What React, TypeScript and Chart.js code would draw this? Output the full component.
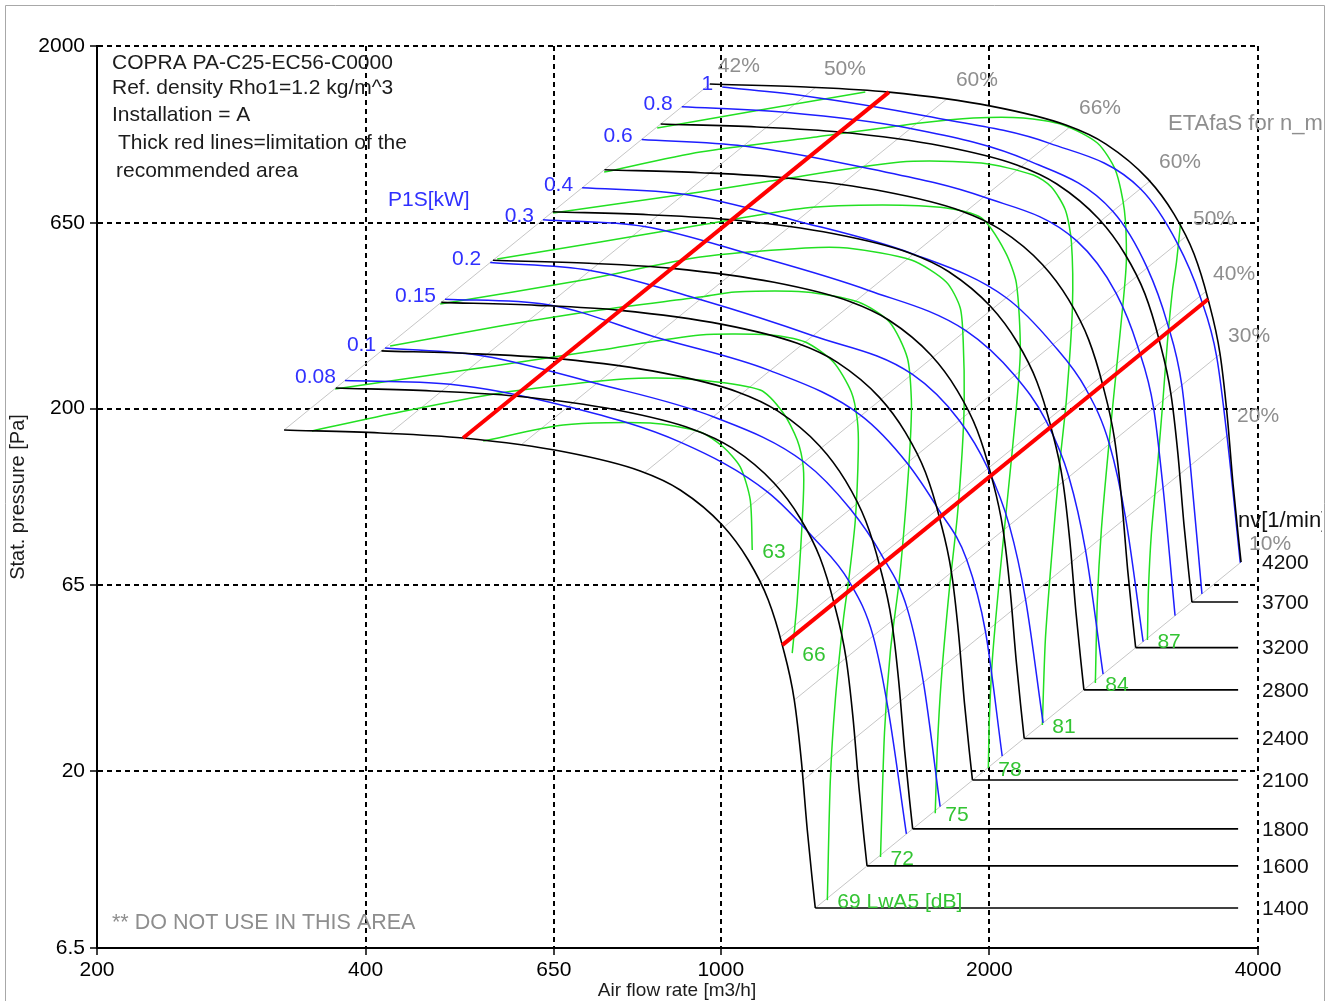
import React, { useEffect, useRef } from "react";
import { Chart, registerables } from "chart.js";

Chart.register(...registerables);

// ---------- axes ----------
const X_TICKS = [200, 400, 650, 1000, 2000, 4000];
const Y_TICKS = [6.5, 20, 65, 200, 650, 2000];

// ---------- speed lines nv [1/min] (Q m3/h, p Pa) ----------
const N1400_Q = [324.1, 415.3, 514.4, 669.4, 812.3, 900.7, 1003.9, 1073.6, 1130.5, 1172.1, 1209.0, 1231.1, 1250.2, 1266.5, 1276.3];
const N1400_P = [174.5, 171.2, 165.8, 151.7, 134.5, 119.2, 95.4, 76.4, 59.3, 44.5, 31.4, 21.4, 13.75, 10.0, 8.38];
const N1600_Q = [370.4, 474.6, 587.9, 765.0, 928.3, 1029.4, 1147.3, 1227.0, 1292.0, 1339.5, 1381.7, 1407.0, 1428.8, 1447.4, 1458.6];
const N1600_P = [227.9, 223.6, 216.6, 198.1, 175.7, 155.7, 124.6, 99.8, 77.5, 58.1, 41.0, 27.95, 17.96, 13.06, 10.95];
const N1800_Q = [416.7, 534.0, 661.4, 860.7, 1044.4, 1158.0, 1290.7, 1380.3, 1453.5, 1507.0, 1554.4, 1582.8, 1607.4, 1628.4, 1641.0];
const N1800_P = [288.5, 283.0, 274.1, 250.8, 222.3, 197.0, 157.7, 126.3, 98.0, 73.6, 51.9, 35.4, 22.7, 16.5, 13.85];
const N2100_Q = [486.2, 623.0, 771.6, 1004.1, 1218.5, 1351.1, 1505.9, 1610.4, 1695.8, 1758.2, 1813.5, 1846.7, 1875.3, 1899.8, 1914.5];
const N2100_P = [392.6, 385.2, 373.1, 341.3, 302.6, 268.2, 214.7, 171.9, 133.4, 100.1, 70.7, 48.2, 30.9, 22.5, 18.9];
const N2400_Q = [555.6, 711.9, 881.8, 1147.5, 1392.5, 1544.1, 1721.0, 1840.5, 1938.0, 2009.3, 2072.6, 2110.5, 2143.2, 2171.1, 2188.0];
const N2400_P = [512.8, 503.1, 487.2, 445.8, 395.3, 350.3, 280.4, 224.5, 174.3, 130.8, 92.3, 62.9, 40.4, 29.4, 24.6];
const N2800_Q = [648.2, 830.6, 1028.8, 1338.8, 1624.6, 1801.4, 2007.8, 2147.2, 2261.0, 2344.2, 2418.0, 2462.2, 2500.4, 2533.0, 2552.6];
const N2800_P = [698.0, 684.8, 663.2, 606.8, 538.0, 476.8, 381.6, 305.6, 237.2, 178.0, 125.6, 85.6, 55.0, 40.0, 33.5];
const N3200_Q = [740.8, 949.3, 1175.8, 1530.1, 1856.7, 2058.7, 2294.6, 2453.9, 2584.0, 2679.1, 2763.4, 2813.9, 2857.6, 2894.9, 2917.3];
const N3200_P = [911.7, 894.4, 866.2, 792.5, 702.7, 622.8, 498.4, 399.2, 309.8, 232.5, 164.0, 111.8, 71.8, 52.2, 43.8];
const N3700_Q = [856.5, 1097.6, 1359.5, 1769.1, 2146.8, 2380.4, 2653.2, 2837.4, 2987.8, 3097.7, 3195.2, 3253.6, 3304.1, 3347.2, 3373.1];
const N3700_P = [1218.8, 1195.8, 1158.1, 1059.6, 939.4, 832.6, 666.3, 533.6, 414.2, 310.8, 219.3, 149.5, 96.0, 69.8, 58.5];
const N4200_Q = [972.3, 1245.9, 1543.2, 2008.2, 2436.9, 2702.1, 3011.7, 3220.8, 3391.5, 3516.3, 3627.0, 3693.3, 3750.6, 3799.5, 3828.9];
const N4200_P = [1570.5, 1540.8, 1492.2, 1365.3, 1210.5, 1072.8, 858.6, 687.6, 533.7, 400.5, 282.6, 192.6, 123.75, 90.0, 75.4];
const SPEED_LABELS = ["1400", "1600", "1800", "2100", "2400", "2800", "3200", "3700", "4200"];
const TAIL_Q = 3800;

// ---------- power lines P1S [kW] ----------
const P008_Q = [379.2, 497.5, 674.4, 903.4, 1128.0, 1272.6, 1392.7, 1481.6, 1541.4, 1614.5];
const P008_P = [238.9, 233.4, 202.3, 161.0, 117.8, 87.6, 66.7, 47.2, 29.3, 13.41];
const P010_Q = [420.6, 543.9, 725.9, 980.9, 1239.8, 1397.2, 1514.2, 1617.8, 1687.1, 1761.3];
const P010_P = [293.8, 278.9, 234.4, 189.8, 142.4, 105.6, 78.9, 56.2, 35.1, 15.96];
const P015_Q = [490.9, 640.5, 842.2, 1135.6, 1436.6, 1617.3, 1752.3, 1886.6, 1980.3, 2067.4];
const P015_P = [400.4, 386.8, 315.5, 254.4, 191.2, 141.5, 105.7, 76.5, 48.4, 21.99];
const P020_Q = [551.6, 714.1, 948.2, 1268.7, 1638.8, 1850.9, 1992.5, 2105.6, 2195.7, 2297.3];
const P020_P = [505.4, 480.8, 399.9, 317.6, 248.7, 185.3, 136.6, 95.2, 59.5, 27.15];
const P030_Q = [632.1, 821.0, 1090.1, 1465.0, 1882.1, 2135.2, 2316.1, 2455.6, 2563.5, 2682.1];
const P030_P = [663.7, 635.6, 528.6, 423.4, 328.1, 246.7, 184.6, 129.5, 81.1, 37.0];
const P040_Q = [699.3, 909.4, 1216.6, 1644.1, 2089.1, 2357.1, 2565.5, 2725.9, 2842.6, 2974.0];
const P040_P = [812.4, 779.7, 658.4, 533.3, 404.2, 300.6, 226.5, 159.6, 99.7, 45.5];
const P060_Q = [815.6, 1060.5, 1442.5, 1970.8, 2504.2, 2773.3, 2933.2, 3055.7, 3131.0, 3229.4];
const P060_P = [1105.0, 1060.5, 925.6, 766.3, 580.8, 416.1, 296.1, 200.6, 120.9, 53.65];
const P080_Q = [904.4, 1180.0, 1631.7, 2212.3, 2749.8, 3005.4, 3164.8, 3286.1, 3359.5, 3461.3];
const P080_P = [1358.9, 1312.8, 1184.3, 965.6, 700.3, 488.7, 344.6, 232.0, 139.2, 61.6];
const P100_Q = [1003.9, 1242.5, 1697.4, 2336.9, 2953.3, 3249.0, 3444.1, 3595.7, 3692.2, 3821.0];
const P100_P = [1541.0, 1455.6, 1281.6, 1077.5, 807.8, 571.1, 408.2, 277.7, 168.2, 75.1];
const POWER_LABELS = ["0.08", "0.1", "0.15", "0.2", "0.3", "0.4", "0.6", "0.8", "1"];

// ---------- sound lines LwA5 [dB] ----------
const G63_Q = [541.8, 665.9, 833.6, 948.5, 1006.5, 1051.6, 1079.1, 1084.7];
const G63_P = [162.7, 180.1, 182.4, 172.3, 156.6, 138.0, 111.9, 81.4];
const G66_Q = [348.3, 437.0, 566.1, 732.6, 833.6, 948.5, 1107.3, 1175.0, 1218.2, 1237.3, 1237.3, 1218.2, 1202.6];
const G66_P = [173.4, 195.6, 220.7, 238.2, 242.8, 239.7, 224.9, 194.4, 163.7, 138.0, 111.9, 59.2, 42.3];
const G69_Q = [369.7, 566.1, 732.6, 948.5, 1136.3, 1243.7, 1337.3, 1400.6, 1422.5, 1426.2, 1415.2, 1393.4, 1372.0, 1344.0, 1326.8, 1316.6];
const G69_P = [226.4, 263.7, 289.9, 319.0, 319.0, 305.1, 268.7, 222.1, 185.9, 153.6, 98.5, 69.4, 52.2, 31.4, 18.9, 8.81];
const G72_Q = [426.1, 566.1, 732.6, 948.5, 1038.1, 1243.7, 1426.2, 1545.6, 1618.6, 1635.4, 1631.2, 1614.5, 1585.3, 1549.6, 1525.8, 1510.2];
const G72_P = [297.4, 337.8, 373.9, 406.1, 419.2, 419.2, 393.4, 346.5, 275.7, 211.1, 163.7, 111.9, 67.3, 43.1, 25.5, 11.58];
const G75_Q = [484.8, 701.2, 948.5, 1243.7, 1386.2, 1635.4, 1789.4, 1855.2, 1869.6, 1874.4, 1864.8, 1840.9, 1803.4, 1766.5, 1748.3, 1739.3];
const G75_P = [388.4, 452.4, 523.5, 554.4, 554.4, 513.6, 446.7, 378.7, 305.1, 211.1, 153.6, 100.4, 63.1, 35.6, 22.9, 15.3];
const G78_Q = [561.7, 732.6, 948.5, 1243.7, 1518.0, 1789.4, 1959.2, 2084.1, 2144.1, 2166.3, 2144.1, 2100.3, 2052.1, 2015.3, 1999.8, 1994.7];
const G78_P = [516.9, 576.0, 641.7, 714.6, 728.4, 714.6, 670.9, 540.4, 443.9, 289.9, 200.6, 119.2, 67.3, 40.5, 27.6, 20.4];
const G81_Q = [648.9, 948.5, 1136.3, 1589.4, 1959.2, 2240.3, 2346.9, 2433.3, 2471.5, 2477.9, 2439.6, 2395.9, 2346.9, 2310.8, 2293.0];
const G81_P = [692.3, 791.1, 848.5, 957.3, 951.2, 881.4, 816.7, 705.6, 576.0, 378.7, 211.1, 138.0, 76.4, 45.96, 26.8];
const G84_Q = [740.2, 948.5, 1279.7, 1673.8, 1919.1, 2183.2, 2420.8, 2642.7, 2768.4, 2833.4, 2848.1, 2826.1, 2775.5, 2718.8, 2670.1, 2642.7, 2629.0];
const G84_P = [898.3, 1020.2, 1122.2, 1226.7, 1266.3, 1266.3, 1211.2, 1080.2, 909.8, 705.6, 513.6, 398.5, 255.4, 153.6, 92.5, 59.2, 35.0];
const G87A_Q = [848.8, 1107.3, 1452.1];
const G87A_P = [1188.4, 1332.4, 1493.3];
const G87B_Q = [3274.8, 3241.2, 3208.0, 3166.3, 3125.7, 3085.6, 3038.2, 3014.9, 3007.1];
const G87B_P = [645.8, 507.1, 424.6, 305.1, 201.9, 138.0, 90.7, 63.1, 45.96];
const SOUND_LABELS = ["63", "66", "69 LwA5 [dB]", "72", "75", "78", "81", "84", "87"];

// ---------- efficiency lines ETAfaS (system parabolas from n=1400 to n=4200) ----------
const ETA_LABELS = ["42%", "50%", "60%", "66%", "60%", "50%", "40%", "30%", "20%", "10%"];
const ETA_Q_LOW = [324.1, 426.1, 599.0, 822.9, 1011.7, 1104.5, 1163.1, 1209.0, 1237.4, 1276.3];
const ETA_P_LOW = [174.5, 171.2, 159.6, 133.6, 94.8, 66.0, 46.55, 31.4, 18.89, 8.38];
const ETA_Q_HIGH = [972.3, 1278.3, 1797.0, 2468.7, 3035.1, 3313.5, 3489.3, 3627.0, 3712.2, 3828.9];
const ETA_P_HIGH = [1570.5, 1540.8, 1436.4, 1202.4, 853.2, 594.0, 419.0, 282.6, 170.0, 75.4];

// ---------- limits of recommended area (thick red) ----------
const RED1_Q = [514.4, 1543.2];
const RED1_P = [165.8, 1492.2];
const RED2_Q = [1172.1, 3516.3];
const RED2_P = [44.5, 400.5];

const FONT = '"Liberation Sans", Arial, sans-serif';

type Curve = { q: number[]; p: number[]; label: string };

const SPEEDS: Curve[] = [
  [N1400_Q, N1400_P], [N1600_Q, N1600_P], [N1800_Q, N1800_P], [N2100_Q, N2100_P], [N2400_Q, N2400_P],
  [N2800_Q, N2800_P], [N3200_Q, N3200_P], [N3700_Q, N3700_P], [N4200_Q, N4200_P],
].map(([q, p], i) => ({ q, p, label: SPEED_LABELS[i] }));

const POWERS: Curve[] = [
  [P008_Q, P008_P], [P010_Q, P010_P], [P015_Q, P015_P], [P020_Q, P020_P], [P030_Q, P030_P],
  [P040_Q, P040_P], [P060_Q, P060_P], [P080_Q, P080_P], [P100_Q, P100_P],
].map(([q, p], i) => ({ q, p, label: POWER_LABELS[i] }));

const SOUNDS: Curve[] = [
  [G63_Q, G63_P], [G66_Q, G66_P], [G69_Q, G69_P], [G72_Q, G72_P], [G75_Q, G75_P],
  [G78_Q, G78_P], [G81_Q, G81_P], [G84_Q, G84_P], [G87B_Q, G87B_P],
].map(([q, p], i) => ({ q, p, label: SOUND_LABELS[i] }));

const pts = (q: number[], p: number[]) => q.map((v, i) => ({ x: v, y: p[i] }));

function lineDs(q: number[], p: number[], color: string, width: number, order: number, extra: any = {}) {
  return {
    data: pts(q, p),
    showLine: true,
    borderColor: color,
    backgroundColor: color,
    borderWidth: width,
    pointRadius: 0,
    pointHoverRadius: 0,
    fill: false,
    order,
    ...extra,
  };
}

const labelsPlugin = {
  id: "fanLabels",
  beforeDraw(chart: any) {
    const { ctx } = chart;
    ctx.save();
    ctx.fillStyle = "#ffffff";
    ctx.fillRect(0, 0, chart.width, chart.height);
    ctx.restore();
  },
  afterDraw(chart: any) {
    const { ctx, chartArea } = chart;
    const xs = chart.scales.x;
    const ys = chart.scales.y;
    const px = (v: number) => xs.getPixelForValue(v);
    const py = (v: number) => ys.getPixelForValue(v);
    ctx.save();
    ctx.beginPath();
    ctx.rect(0, 0, 1322, chart.height);
    ctx.clip();
    ctx.textBaseline = "middle";
    ctx.font = `21px ${FONT}`;

    // efficiency labels at upper ends
    ctx.fillStyle = "#8e8e8e";
    ctx.textAlign = "center";
    ETA_LABELS.forEach((t, i) => ctx.fillText(t, px(ETA_Q_HIGH[i]) + 29, py(ETA_P_HIGH[i]) - 18));

    // power labels at starts
    ctx.fillStyle = "#3030ff";
    ctx.textAlign = "right";
    POWERS.forEach((c) => ctx.fillText(c.label, px(c.q[0]) - 9, py(c.p[0]) - 3));

    // sound labels at ends
    ctx.fillStyle = "#33c433";
    ctx.textAlign = "left";
    SOUNDS.forEach((c) => {
      const n = c.q.length - 1;
      ctx.fillText(c.label, px(c.q[n]) + 10, py(c.p[n]) + 2);
    });

    // speed labels at the right
    ctx.fillStyle = "#111111";
    SPEEDS.forEach((c) => {
      const n = c.p.length - 1;
      ctx.fillText(c.label, chartArea.right + 4, py(c.p[n]) + 1);
    });

    // annotations
    ctx.fillStyle = "#1c1c1c";
    ctx.fillText("COPRA PA-C25-EC56-C0000", 112, 63);
    ctx.fillText("Ref. density Rho1=1.2 kg/m^3", 112, 88);
    ctx.fillText("Installation = A", 112, 115);
    ctx.fillText("Thick red lines=limitation of the", 118, 143);
    ctx.fillText("recommended area", 116, 171);
    ctx.fillStyle = "#3030ff";
    ctx.fillText("P1S[kW]", 388, 200);
    ctx.fillStyle = "#8e8e8e";
    ctx.font = `21.5px ${FONT}`;
    ctx.fillText("** DO NOT USE IN THIS AREA", 112, 923);
    ctx.font = `22px ${FONT}`;
    ctx.fillText("ETAfaS for n_max", 1168, 124);
    ctx.fillStyle = "#111111";
    ctx.fillText("nv[1/min]", 1238, 521);

    // axis titles
    ctx.fillStyle = "#1c1c1c";
    ctx.font = `19px ${FONT}`;
    ctx.textAlign = "center";
    ctx.fillText("Air flow rate [m3/h]", 677, 991);
    ctx.save();
    ctx.translate(18, 497);
    ctx.rotate(-Math.PI / 2);
    ctx.font = `20px ${FONT}`;
    ctx.fillText("Stat. pressure [Pa]", 0, 0);
    ctx.restore();
    ctx.restore();

    // outer frame
    ctx.save();
    ctx.strokeStyle = "#a8a8a8";
    ctx.lineWidth = 1;
    ctx.beginPath();
    ctx.moveTo(5.5, chart.height);
    ctx.lineTo(5.5, 5.5);
    ctx.lineTo(1324.5, 5.5);
    ctx.lineTo(1324.5, chart.height);
    ctx.stroke();
    ctx.restore();
  },
};

export default function App() {
  const ref = useRef<HTMLCanvasElement>(null);

  useEffect(() => {
    if (!ref.current) return;
    const datasets: any[] = [];

    ETA_LABELS.forEach((_, i) =>
      datasets.push(lineDs([ETA_Q_LOW[i], ETA_Q_HIGH[i]], [ETA_P_LOW[i], ETA_P_HIGH[i]], "#c6c6c6", 1, 6))
    );
    SOUNDS.forEach((c) => datasets.push(lineDs(c.q, c.p, "#22e022", 1.5, 5, { tension: 0.25 })));
    datasets.push(lineDs(G87A_Q, G87A_P, "#22e022", 1.5, 5, { tension: 0.25 }));
    POWERS.forEach((c) => datasets.push(lineDs(c.q, c.p, "#1e1eff", 1.5, 4, { cubicInterpolationMode: "monotone" })));
    SPEEDS.forEach((c) => {
      datasets.push(lineDs(c.q, c.p, "#000000", 1.6, 3, { cubicInterpolationMode: "monotone" }));
      const n = c.q.length - 1;
      if (c.q[n] < TAIL_Q) datasets.push(lineDs([c.q[n], TAIL_Q], [c.p[n], c.p[n]], "#000000", 1.6, 3));
    });
    datasets.push(lineDs(RED1_Q, RED1_P, "#ff0000", 4, 1));
    datasets.push(lineDs(RED2_Q, RED2_P, "#ff0000", 4, 1));

    const gridCommon = { color: "#000000", lineWidth: 2, tickLength: 7, drawTicks: true, tickColor: "#000000", tickWidth: 1.5 };

    const chart = new Chart(ref.current, {
      type: "scatter",
      data: { datasets },
      options: {
        animation: false,
        responsive: false,
        devicePixelRatio: 1,
        events: [],
        layout: { padding: { left: 0, top: 46, right: 82, bottom: 0 } },
        plugins: { legend: { display: false }, tooltip: { enabled: false }, title: { display: false } },
        scales: {
          x: {
            type: "logarithmic",
            min: 200,
            max: 4000,
            afterBuildTicks: (s: any) => {
              s.ticks = X_TICKS.map((v) => ({ value: v }));
            },
            afterFit: (s: any) => {
              s.height = 53;
            },
            ticks: {
              autoSkip: false,
              maxRotation: 0,
              color: "#000000",
              padding: 3,
              font: { family: FONT, size: 21 },
              callback: (v: any) => String(v),
            },
            grid: gridCommon,
            border: { display: true, color: "#000000", width: 2, dash: [5, 4] },
          },
          y: {
            type: "logarithmic",
            min: 6.5,
            max: 2000,
            afterBuildTicks: (s: any) => {
              s.ticks = Y_TICKS.map((v) => ({ value: v }));
            },
            afterFit: (s: any) => {
              s.width = 97;
            },
            ticks: {
              autoSkip: false,
              color: "#000000",
              padding: 5,
              font: { family: FONT, size: 21 },
              callback: (v: any) => String(v),
            },
            grid: gridCommon,
            border: { display: true, color: "#000000", width: 2, dash: [5, 4] },
          },
        },
      } as any,
      plugins: [labelsPlugin],
    });
    return () => chart.destroy();
  }, []);

  return (
    <div style={{ position: "absolute", left: 0, top: 0, width: 1340, height: 1001, background: "#ffffff" }}>
      <canvas ref={ref} width={1340} height={1001} style={{ display: "block", width: 1340, height: 1001 }} />
    </div>
  );
}
